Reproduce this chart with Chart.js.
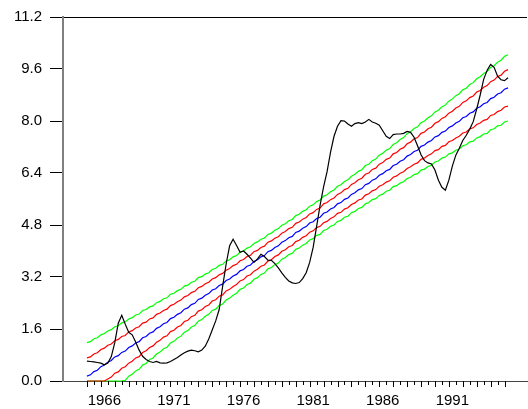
<!DOCTYPE html>
<html><head><meta charset="utf-8">
<script src="https://cdn.jsdelivr.net/npm/chart.js@4/dist/chart.umd.min.js"></script>
<style>html,body{margin:0;padding:0;background:#fff;}canvas{display:block;}</style>
</head><body>
<canvas id="c" width="528" height="409"></canvas>
<script>
// quarterly data, first observation 1964 Q4
const startYear = 1964.75;
const actual = [0.61,0.60,0.59,0.57,0.55,0.50,0.55,0.75,1.18,1.78,
2.02,1.75,1.50,1.42,1.20,0.95,0.76,0.66,0.60,0.57,
0.60,0.56,0.55,0.56,0.60,0.66,0.72,0.80,0.87,0.92,
0.95,0.93,0.90,0.95,1.07,1.29,1.57,1.85,2.20,2.92,
3.60,4.16,4.36,4.17,3.96,4.00,3.90,3.78,3.65,3.76,
3.90,3.83,3.72,3.71,3.61,3.48,3.33,3.19,3.08,3.02,
3.00,3.03,3.15,3.33,3.65,4.11,4.76,5.41,5.97,6.44,
7.04,7.53,7.84,8.01,8.00,7.91,7.84,7.92,7.95,7.92,
7.97,8.05,7.97,7.93,7.87,7.70,7.53,7.46,7.58,7.60,
7.60,7.62,7.68,7.65,7.50,7.24,6.96,6.78,6.71,6.68,
6.49,6.18,5.96,5.87,6.18,6.61,6.95,7.16,7.40,7.56,
7.75,7.98,8.37,8.80,9.28,9.56,9.74,9.65,9.38,9.27,
9.24,9.33];
const trend = [0.15,0.19,0.29,0.33,0.44,0.49,0.58,0.63,0.74,0.78,
0.88,0.92,1.03,1.08,1.17,1.21,1.33,1.37,1.47,1.51,
1.62,1.67,1.76,1.80,1.92,1.96,2.05,2.10,2.21,2.25,
2.35,2.39,2.51,2.55,2.64,2.69,2.80,2.84,2.94,2.98,
3.09,3.14,3.23,3.28,3.39,3.43,3.53,3.57,3.68,3.73,
3.82,3.86,3.98,4.02,4.11,4.16,4.27,4.32,4.41,4.45,
4.57,4.61,4.70,4.75,4.86,4.90,5.00,5.04,5.16,5.20,
5.29,5.34,5.45,5.49,5.59,5.63,5.74,5.79,5.88,5.92,
6.04,6.08,6.18,6.22,6.33,6.38,6.47,6.51,6.63,6.67,
6.76,6.81,6.92,6.97,7.06,7.10,7.22,7.26,7.35,7.40,
7.51,7.55,7.65,7.69,7.80,7.85,7.94,7.99,8.10,8.14,
8.24,8.28,8.39,8.44,8.53,8.57,8.69,8.73,8.83,8.87,
8.98,9.02];
// half-widths of the red (inner) and green (outer) bands around the trend
const innerHalf = [0.56,0.55,0.54,0.54,0.53,0.52,0.52,0.51,0.50,0.50,
0.49,0.48,0.48,0.47,0.46,0.46,0.45,0.44,0.44,0.43,
0.43,0.42,0.41,0.41,0.40,0.40,0.39,0.39,0.38,0.38,
0.37,0.37,0.36,0.36,0.35,0.35,0.34,0.34,0.33,0.33,
0.32,0.32,0.32,0.31,0.31,0.31,0.30,0.30,0.30,0.29,
0.29,0.29,0.29,0.29,0.28,0.28,0.28,0.28,0.28,0.28,
0.28,0.28,0.28,0.28,0.28,0.28,0.28,0.28,0.29,0.29,
0.29,0.29,0.29,0.30,0.30,0.30,0.31,0.31,0.31,0.32,
0.32,0.32,0.33,0.33,0.34,0.34,0.35,0.35,0.36,0.36,
0.37,0.37,0.38,0.38,0.39,0.39,0.40,0.40,0.41,0.41,
0.42,0.43,0.43,0.44,0.44,0.45,0.46,0.46,0.47,0.48,
0.48,0.49,0.50,0.50,0.51,0.52,0.52,0.53,0.54,0.54,
0.55,0.56];
const outerHalf = [1.03,1.02,1.01,1.00,0.98,0.97,0.96,0.95,0.93,0.92,
0.91,0.90,0.88,0.87,0.86,0.85,0.84,0.83,0.81,0.80,
0.79,0.78,0.77,0.76,0.75,0.74,0.73,0.72,0.71,0.70,
0.69,0.68,0.67,0.66,0.65,0.64,0.63,0.63,0.62,0.61,
0.60,0.59,0.59,0.58,0.57,0.57,0.56,0.56,0.55,0.55,
0.54,0.54,0.53,0.53,0.53,0.53,0.52,0.52,0.52,0.52,
0.52,0.52,0.52,0.52,0.52,0.52,0.52,0.53,0.53,0.53,
0.53,0.54,0.54,0.55,0.55,0.56,0.56,0.57,0.57,0.58,
0.59,0.59,0.60,0.61,0.62,0.63,0.63,0.64,0.65,0.66,
0.67,0.68,0.69,0.70,0.71,0.72,0.73,0.74,0.75,0.76,
0.77,0.78,0.79,0.80,0.81,0.83,0.84,0.85,0.86,0.87,
0.88,0.90,0.91,0.92,0.93,0.95,0.96,0.97,0.98,1.00,
1.01,1.02,1.03].slice(0, 122);
const yTickValues = [0, 1.6, 3.2, 4.8, 6.4, 8.0, 9.6, 11.2];
const xLabelYears = [1966, 1971, 1976, 1981, 1986, 1991];

const xs = actual.map((_, i) => startYear + i * 0.25);
const pts = arr => arr.map((v, i) => ({x: xs[i], y: v}));
const band = (half, sign) => trend.map((v, i) => Math.max(0, v + sign * half[i]));
const lastX = xs[xs.length - 1];

const minorTicks = {
  id: 'minorTicks',
  afterDraw(chart) {
    const sx = chart.scales.x, ctx = chart.ctx, y0 = chart.chartArea.bottom;
    ctx.save();
    ctx.strokeStyle = '#000';
    ctx.lineWidth = 1;
    for (let t = startYear; t <= lastX + 1e-6; t += 0.5) {
      const px = Math.round(sx.getPixelForValue(t)) + 0.5;
      const k = Math.round((t - startYear) / 0.5);
      const len = (k % 2 === 0) ? 6 : 4;
      ctx.beginPath();
      ctx.moveTo(px, y0);
      ctx.lineTo(px, y0 + len);
      ctx.stroke();
    }
    ctx.restore();
  }
};

const line = (data, color) => ({
  data: pts(data), borderColor: color, borderWidth: 1.2, pointRadius: 0,
  tension: 0, fill: false, clip: false
});

new Chart(document.getElementById('c'), {
  type: 'line',
  data: {
    datasets: [
      line(actual, '#000000'),
      line(trend, '#0000ff'),
      line(band(innerHalf, 1), '#ff0000'),
      line(band(innerHalf, -1), '#ff0000'),
      line(band(outerHalf, 1), '#00ff00'),
      line(band(outerHalf, -1), '#00ff00')
    ]
  },
  options: {
    responsive: false,
    animation: false,
    devicePixelRatio: 1,
    layout: {padding: {top: 16, right: 1, left: 0, bottom: 0}},
    plugins: {legend: {display: false}, tooltip: {enabled: false}},
    scales: {
      x: {
        type: 'linear',
        min: 1963.03,
        max: 1963.03 + 464 / 13.92,
        afterBuildTicks: s => { s.ticks = xLabelYears.map(v => ({value: v})); },
        afterFit: s => { s.height = 28; },
        ticks: {
          autoSkip: false, maxRotation: 0, padding: 11, color: '#000',
          font: {family: 'Liberation Sans', size: 15},
          callback: v => String(v)
        },
        grid: {display: false, drawTicks: false},
        border: {display: true, color: '#444', width: 1}
      },
      y: {
        min: 0, max: 11.2,
        afterBuildTicks: s => { s.ticks = yTickValues.map(v => ({value: v})); },
        afterFit: s => { s.width = 63; },
        ticks: {
          padding: 8, color: '#000',
          font: {family: 'Liberation Sans', size: 15},
          callback: v => Number(v).toFixed(1)
        },
        grid: {
          drawOnChartArea: true,
          tickLength: 13,
          tickColor: '#000',
          color: ctx => (ctx.tick && Math.abs(ctx.tick.value - 11.2) < 1e-6) ? '#000' : 'rgba(0,0,0,0)'
        },
        border: {display: true, color: '#808080', width: 2}
      }
    }
  },
  plugins: [minorTicks]
});
</script>
</body></html>
